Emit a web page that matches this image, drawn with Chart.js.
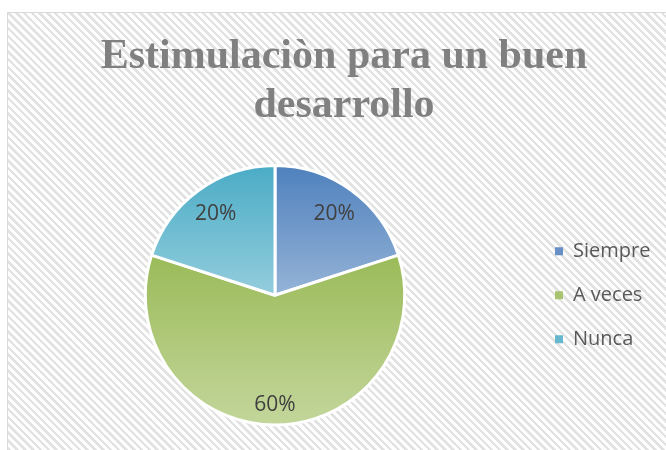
<!DOCTYPE html>
<html><head><meta charset="utf-8">
<script src="https://cdn.jsdelivr.net/npm/chart.js"></script>
<style>
html,body{margin:0;padding:0;width:666px;height:450px;overflow:hidden;background:#fff;}
#frame{position:absolute;left:7px;top:12px;width:700px;height:480px;border:1px solid #d9d9d9;
background:repeating-linear-gradient(45deg,#ffffff 0px,#ffffff 3px,#e2e2e2 3px,#e2e2e2 5.5px);}
#c{position:absolute;left:0;top:0;}
</style></head><body>
<div id="frame"></div>
<canvas id="c" width="666" height="450"></canvas>
<script>
const categories = ['Siempre', 'A veces', 'Nunca'];
const values = [20, 60, 20];
const titleLines = ['Estimulaciòn para un buen', 'desarrollo'];

const gradTop = ['#4F81BD', '#9BBB59', '#4BACC6'];
const gradBottom = ['#95B3D7', '#C3D69B', '#93CDDD'];
const legendFill = ['#6790C6', '#A8C46E', '#66B8CE'];

function sliceGradient(ctx) {
  const chart = ctx.chart, area = chart.chartArea, i = ctx.dataIndex;
  if (!area || i === undefined) return gradTop[i || 0];
  const ctrl = chart.getDatasetMeta(0).controller;
  const r = ctrl.outerRadius || Math.min(area.width, area.height) / 2;
  const cy = (area.top + area.bottom) / 2 + (ctrl.offsetY || 0);
  const data = chart.data.datasets[0].data;
  const total = data.reduce((a, b) => a + b, 0);
  let start = -Math.PI / 2;
  for (let k = 0; k < i; k++) start += data[k] / total * 2 * Math.PI;
  const end = start + data[i] / total * 2 * Math.PI;
  const ys = [cy, cy + r * Math.sin(start), cy + r * Math.sin(end)];
  [-Math.PI / 2, Math.PI / 2, 3 * Math.PI / 2].forEach(a => {
    if (a >= start - 1e-9 && a <= end + 1e-9) ys.push(cy + r * Math.sin(a));
  });
  const y0 = Math.min(...ys), y1 = Math.max(...ys);
  const g = chart.ctx.createLinearGradient(0, y0, 0, y1);
  g.addColorStop(0, gradTop[i]);
  g.addColorStop(1, gradBottom[i]);
  return g;
}

const pctLabels = {
  id: 'pctLabels',
  afterDatasetsDraw(chart) {
    const meta = chart.getDatasetMeta(0), c = chart.ctx;
    const data = chart.data.datasets[0].data;
    const total = data.reduce((a, b) => a + b, 0);
    c.save();
    c.font = '21px "Open Sans"';
    c.fillStyle = '#404040';
    c.textAlign = 'center';
    c.textBaseline = 'middle';
    meta.data.forEach((arc, i) => {
      const p = arc.getProps(['x', 'y', 'startAngle', 'endAngle', 'outerRadius'], true);
      const mid = (p.startAngle + p.endAngle) / 2;
      const txt = Math.round(data[i] / total * 100) + '%';
      const w = c.measureText(txt).width / 2, h = 10;
      const lim = p.outerRadius - 8;
      const cx = Math.cos(mid), sy = Math.sin(mid);
      let d = lim;
      while (d > 0) {
        if (Math.hypot(Math.abs(d * cx) + w, Math.abs(d * sy) + h) <= lim) break;
        d -= 0.5;
      }
      c.fillText(txt, p.x + d * cx, p.y + d * sy);
    });
    c.restore();
  }
};

// Keep the legend column as wide as the reference's legend area
const legendWidth = {
  id: 'legendWidth',
  beforeLayout(chart) {
    const lg = chart.legend;
    if (lg && !lg._wPatched) {
      const fit = lg.fit.bind(lg);
      lg.fit = function () { fit(); this.width = 138; };
      lg._wPatched = true;
    }
  }
};

new Chart(document.getElementById('c'), {
  type: 'pie',
  data: {
    labels: categories,
    datasets: [{
      data: values,
      backgroundColor: sliceGradient,
      borderColor: '#ffffff',
      borderWidth: 3,
      hoverBorderWidth: 3,
      hoverOffset: 0
    }]
  },
  options: {
    responsive: false,
    animation: false,
    devicePixelRatio: 1,
    layout: { padding: { left: 19, right: -3, top: 12, bottom: 23.5 } },
    plugins: {
      title: {
        display: true,
        text: titleLines,
        color: '#808080',
        font: { family: "'Liberation Serif', 'Times New Roman', serif", size: 42, weight: 'bold', lineHeight: 1.1667 },
        padding: { top: 21, bottom: 33 }
      },
      legend: {
        position: 'right',
        fullSize: false,
        labels: {
          font: { family: "'Open Sans', sans-serif", size: 20 },
          color: '#595959',
          boxWidth: 8,
          boxHeight: 8,
          padding: 24,
          generateLabels(chart) {
            const items = Chart.overrides.pie.plugins.legend.labels.generateLabels(chart);
            items.forEach((it, i) => {
              it.fillStyle = legendFill[i];
              it.strokeStyle = 'rgba(0,0,0,0)';
              it.lineWidth = 0;
              it.fontColor = '#595959';
            });
            return items;
          }
        }
      },
      tooltip: { enabled: false }
    }
  },
  plugins: [legendWidth, pctLabels]
});
</script>
</body></html>
